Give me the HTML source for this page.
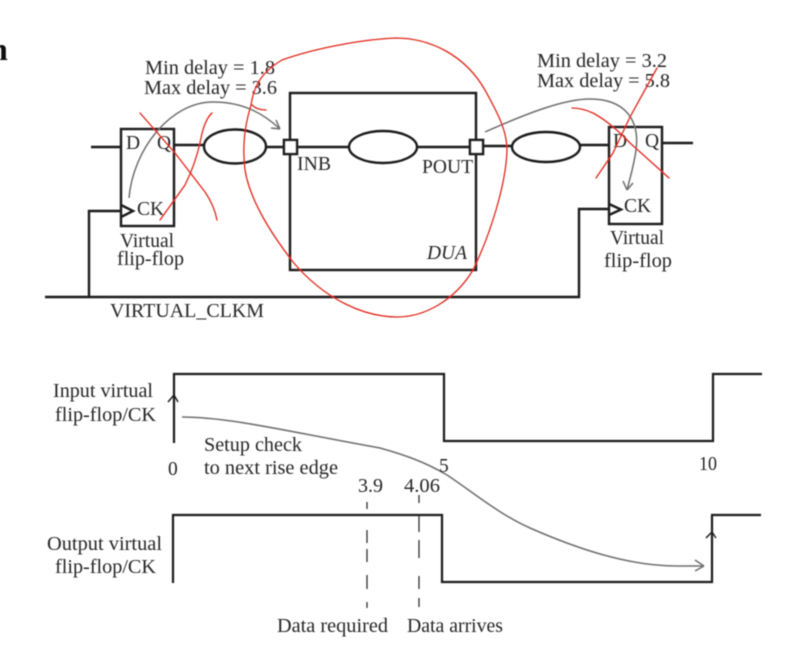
<!DOCTYPE html>
<html>
<head>
<meta charset="utf-8">
<style>
html,body{margin:0;padding:0;background:#fff;}
svg{display:block;}
text{font-family:"Liberation Serif",serif;font-size:19.5px;fill:#262626;}
</style>
</head>
<body>
<svg width="806" height="659" viewBox="0 0 806 659" xmlns="http://www.w3.org/2000/svg">
<defs><filter id="b" x="-5%" y="-5%" width="110%" height="110%"><feGaussianBlur stdDeviation="0.45"/></filter></defs>
<rect width="806" height="659" fill="#fff"/>
<g filter="url(#b)">
<text x="-10" y="60" style="font-size:32px;font-weight:bold;fill:#111">n</text>

<!-- Top circuit -->
<g fill="none" stroke="#1c1c1c" stroke-width="2.4">
<rect x="121" y="129" width="53" height="97"/>
<rect x="290" y="93" width="186" height="177"/>
<rect x="609" y="127" width="53" height="97"/>
<path d="M91,147H121M174,145H204M266,147H284M296,147H350M417,147H470M483,146H512M580,145H609M662,143H693"/>
<path d="M45,297H579V209H609M89,297V211H121" />
<path d="M121,205L133,211L121,217M609,204L621,209.500L609,215"/>
<ellipse cx="235" cy="146.500" rx="31" ry="17"/>
<ellipse cx="383" cy="147" rx="34" ry="16"/>
<ellipse cx="546" cy="147" rx="34" ry="15"/>
<rect x="284" y="140" width="13" height="14" fill="#fff" stroke-width="2.600"/>
<rect x="470" y="140" width="13" height="14" fill="#fff" stroke-width="2.600"/>
</g>

<text x="145" y="74" textLength="130" lengthAdjust="spacingAndGlyphs">Min delay = 1.8</text>
<text x="144" y="94" textLength="133" lengthAdjust="spacingAndGlyphs">Max delay = 3.6</text>
<text x="537" y="67" textLength="130" lengthAdjust="spacingAndGlyphs">Min delay = 3.2</text>
<text x="537" y="87" textLength="133" lengthAdjust="spacingAndGlyphs">Max delay = 5.8</text>
<text x="126" y="149">D</text>
<text x="157" y="149">Q</text>
<text x="137" y="215">CK</text>
<text x="147" y="247" text-anchor="middle">Virtual</text>
<text x="117" y="265" textLength="67" lengthAdjust="spacingAndGlyphs">flip-flop</text>
<text x="110" y="317" textLength="154" lengthAdjust="spacingAndGlyphs">VIRTUAL_CLKM</text>
<text x="297" y="170" textLength="34" lengthAdjust="spacingAndGlyphs">INB</text>
<text x="422" y="173" textLength="51" lengthAdjust="spacingAndGlyphs">POUT</text>
<text x="427" y="259" textLength="40" lengthAdjust="spacingAndGlyphs" font-style="italic">DUA</text>
<text x="613" y="147">D</text>
<text x="645" y="147">Q</text>
<text x="624" y="212">CK</text>
<text x="637" y="244" text-anchor="middle">Virtual</text>
<text x="604" y="267" textLength="68" lengthAdjust="spacingAndGlyphs">flip-flop</text>

<!-- Gray curves -->
<g fill="none" stroke="#6e6e6e" stroke-width="1.500">
<path d="M129,198C133,150 170,102 213,102C245,102 265,115 280,129M280,129L271,128M280,129L276,120"/>
<path d="M485,132C530,112 565,99 590,99C625,99 640,120 636,150C634,165 630,178 627,190M627,190L623,181M627,190L633,183"/>
<path d="M182,417C230,417 290,432 380,448C405,455 425,462 447,475C470,490 500,515 530,528C580,550 630,566 677,566L704,566M704,566L695,560M704,566L695,571"/>
</g>

<!-- Red annotations -->
<g fill="none" stroke="#e0281a" stroke-width="1.300" stroke-linecap="round">
<path d="M251,105C254,85 262,72 282,60C310,50 355,40 395,38C430,38 465,55 485,90C497,112 507,130 507,150C506,185 490,235 473,270C455,300 425,317 397,317C365,317 325,300 293,262C270,232 250,200 245,170C242,145 245,125 251,105Z"/>
<path d="M266,110Q257,110 252,105"/>
<path d="M140,113L175,153L205,192Q214,205 217,220"/>
<path d="M160,220L185,185Q195,165 200,143Q204,120 212,113"/>
<path d="M572,108Q582,108 593,113Q610,122 630,143L669,178"/>
<path d="M657,68L630,117L613,153L596,178"/>
</g>

<!-- Timing diagram -->
<g fill="none" stroke="#1c1c1c" stroke-width="2.200">
<path d="M174,443V374H444V441H713V374H762"/>
<path d="M173,583V515H442V582H712V515H761"/>
<path stroke-width="1.400" d="M168,402L174,395L178,402M706,538L712,532L716,538"/>
</g>
<g fill="none" stroke="#333" stroke-width="1.300">
<path d="M367,502V509M367,530V543M367,549V562M367,575V589M367,602V608"/>
<path d="M419,495V503M419,515V532M419,540V558M419,576V589M419,598V607"/>
</g>

<text x="53" y="397" textLength="100" lengthAdjust="spacingAndGlyphs">Input virtual</text>
<text x="55" y="421" textLength="101" lengthAdjust="spacingAndGlyphs">flip-flop/CK</text>
<text x="168" y="475">0</text>
<text x="204" y="451" textLength="98" lengthAdjust="spacingAndGlyphs">Setup check</text>
<text x="204" y="474" textLength="134" lengthAdjust="spacingAndGlyphs">to next rise edge</text>
<text x="358" y="492" textLength="25" lengthAdjust="spacingAndGlyphs">3.9</text>
<text x="404" y="492" textLength="36" lengthAdjust="spacingAndGlyphs">4.06</text>
<text x="439" y="472">5</text>
<text x="699" y="470" textLength="18" lengthAdjust="spacingAndGlyphs">10</text>
<text x="47" y="550" textLength="115" lengthAdjust="spacingAndGlyphs">Output virtual</text>
<text x="55" y="573" textLength="101" lengthAdjust="spacingAndGlyphs">flip-flop/CK</text>
<text x="277" y="632" textLength="111" lengthAdjust="spacingAndGlyphs">Data required</text>
<text x="407" y="632" textLength="96" lengthAdjust="spacingAndGlyphs">Data arrives</text>
</g>
</svg>
</body>
</html>
